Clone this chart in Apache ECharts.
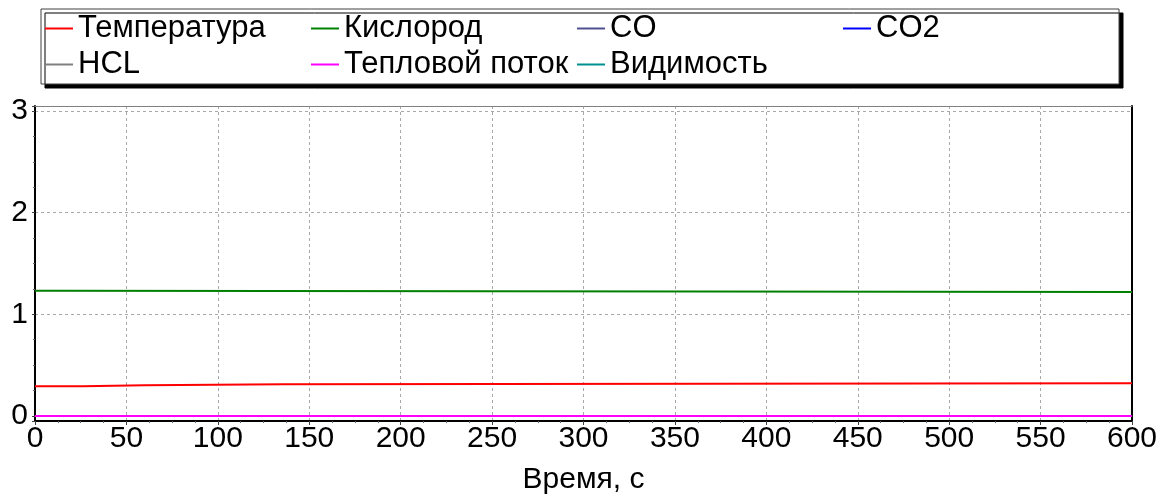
<!DOCTYPE html>
<html>
<head>
<meta charset="utf-8">
<title>Динамика ОФП</title>
<script src="https://cdn.jsdelivr.net/npm/echarts@6/dist/echarts.min.js"></script>
<style>
  html, body { margin: 0; padding: 0; background: #fff; }
  #chart { width: 1171px; height: 503px; }
</style>
</head>
<body>
<div id="chart"></div>
<script>
// ряды, время (с) -> значение
const seriesNames = ["Температура", "Кислород", "CO", "CO2", "HCL", "Тепловой поток", "Видимость"];
const seriesColors = ["#ff0000", "#008000", "#505090", "#0000ff", "#808080", "#ff00ff", "#009090"];

const tempTime = [0, 26, 60, 136, 600];
const tempValues = [0.293, 0.302, 0.312, 0.322, 0.322];

const oxyTime = [0, 12, 600];
const oxyValues = [1.232, 1.219, 1.219];

const zeroTime = [0, 600];
const coValues = [0, 0];
const co2Values = [0, 0];
const hclValues = [0, 0];
const heatValues = [0, 0];
const visValues = [0, 0];

const xTicks = [0, 600, 50]; // min, max, шаг
const FONT = 'Arial, "Liberation Sans", sans-serif';

// ступенчатый ряд: значение держится до следующей отметки времени
function stepPairs(t, v) {
  const out = [[t[0], v[0]]];
  for (let i = 1; i < t.length; i++) {
    out.push([t[i], v[i - 1]]);
    out.push([t[i], v[i]]);
  }
  return out;
}

const seriesData = [
  stepPairs(tempTime, tempValues),
  stepPairs(oxyTime, oxyValues),
  stepPairs(zeroTime, coValues),
  stepPairs(zeroTime, co2Values),
  stepPairs(zeroTime, hclValues),
  stepPairs(zeroTime, heatValues),
  stepPairs(zeroTime, visValues),
];

const options = {
  animation: false,
  textStyle: { fontFamily: FONT },
  legend: {
    left: 41,
    top: 9,
    width: 1070,
    orient: "horizontal",
    icon: "rect",
    itemWidth: 28,
    itemHeight: 2,
    itemGap: 5,
    padding: [4, 15, 4, 4],
    backgroundColor: "#fff",
    borderColor: "#404040",
    borderWidth: 1,
    shadowColor: "#000",
    shadowBlur: 0,
    shadowOffsetX: 4,
    shadowOffsetY: 4,
    textStyle: {
      color: "#000",
      fontSize: 31,
      fontFamily: FONT,
      width: 228,
      lineHeight: 30,
      overflow: "none",
    },
    data: seriesNames,
  },
  grid: {
    left: 35,
    right: 39,
    top: 106,
    bottom: 82,
  },
  xAxis: [
    {
      type: "value",
      min: xTicks[0],
      max: xTicks[1],
      interval: xTicks[2],
      name: "Время, с",
      nameLocation: "middle",
      nameGap: 44,
      nameTextStyle: { color: "#000", fontSize: 30, fontFamily: FONT },
      axisLine: { show: true, onZero: false, lineStyle: { color: "#000", width: 2 } },
      axisTick: { show: true, length: 4, lineStyle: { color: "#404040" } },
      minorTick: { show: true, splitNumber: 4, length: 2, lineStyle: { color: "#606060" } },
      axisLabel: { color: "#000", fontSize: 30, margin: 3, fontFamily: FONT },
      splitLine: {
        show: true,
        lineStyle: { color: "#a8a8a8", type: [3, 3], width: 1 },
      },
    },
    {
      // верхняя рамка
      type: "value",
      position: "top",
      min: xTicks[0],
      max: xTicks[1],
      axisLine: { show: true, onZero: false, lineStyle: { color: "#808080", width: 1 } },
      axisTick: { show: false },
      axisLabel: { show: false },
      splitLine: { show: false },
    },
  ],
  yAxis: [
    {
      type: "value",
      min: -0.05,
      max: 3.05,
      splitNumber: 3,
      axisLine: { show: true, onZero: false, lineStyle: { color: "#000", width: 2 } },
      axisTick: { show: true, length: 3, lineStyle: { color: "#404040" } },
      minorTick: { show: true, splitNumber: 4, length: 2, lineStyle: { color: "#606060" } },
      axisLabel: {
        color: "#000",
        fontSize: 30,
        margin: 7,
        fontFamily: FONT,
        showMinLabel: false,
        showMaxLabel: false,
        formatter: (val) => (Math.abs(val - Math.round(val)) < 1e-6 ? `${Math.round(val)}` : ""),
      },
      splitLine: {
        show: true,
        showMinLine: false,
        showMaxLine: false,
        lineStyle: { color: "#a8a8a8", type: [3, 3], width: 1 },
      },
    },
    {
      // правая рамка
      type: "value",
      position: "right",
      min: -0.05,
      max: 3.05,
      axisLine: { show: true, onZero: false, lineStyle: { color: "#000", width: 2 } },
      axisTick: { show: false },
      axisLabel: { show: false },
      splitLine: { show: false },
    },
  ],
  series: seriesNames.map((name, i) => ({
    name,
    type: "line",
    showSymbol: false,
    symbol: "none",
    z: name === "Тепловой поток" ? 5 : 2,
    color: seriesColors[i],
    lineStyle: { color: seriesColors[i], width: 2 },
    data: seriesData[i],
  })),
};

const chart = echarts.init(document.getElementById("chart"));
chart.setOption(options);

window.addEventListener("resize", () => {
  chart.resize();
});
</script>
</body>
</html>
